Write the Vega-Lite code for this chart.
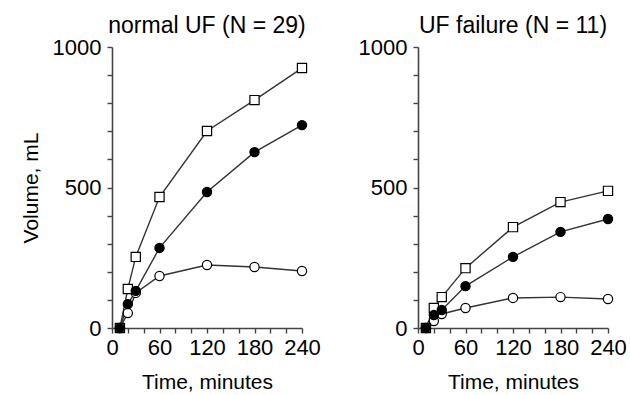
{
  "$schema": "https://vega.github.io/schema/vega-lite/v6.json",
  "background": "white",
  "padding": {"left": 20, "top": 15, "right": 5, "bottom": 0},
  "datasets": {
    "normal": [
      {"series": "open", "time": 10, "volume": 0},
      {"series": "open", "time": 20, "volume": 53},
      {"series": "open", "time": 30, "volume": 125},
      {"series": "open", "time": 60, "volume": 185},
      {"series": "open", "time": 120, "volume": 224},
      {"series": "open", "time": 180, "volume": 217},
      {"series": "open", "time": 240, "volume": 203},
      {"series": "square", "time": 10, "volume": 0},
      {"series": "square", "time": 20, "volume": 139},
      {"series": "square", "time": 30, "volume": 253},
      {"series": "square", "time": 60, "volume": 466},
      {"series": "square", "time": 120, "volume": 701},
      {"series": "square", "time": 180, "volume": 811},
      {"series": "square", "time": 240, "volume": 925},
      {"series": "filled", "time": 10, "volume": 0},
      {"series": "filled", "time": 20, "volume": 85},
      {"series": "filled", "time": 30, "volume": 132},
      {"series": "filled", "time": 60, "volume": 285},
      {"series": "filled", "time": 120, "volume": 484},
      {"series": "filled", "time": 180, "volume": 626},
      {"series": "filled", "time": 240, "volume": 722}
    ],
    "failure": [
      {"series": "open", "time": 10, "volume": 0},
      {"series": "open", "time": 20, "volume": 25},
      {"series": "open", "time": 30, "volume": 50},
      {"series": "open", "time": 60, "volume": 71},
      {"series": "open", "time": 120, "volume": 107},
      {"series": "open", "time": 180, "volume": 110},
      {"series": "open", "time": 240, "volume": 103},
      {"series": "square", "time": 10, "volume": 0},
      {"series": "square", "time": 20, "volume": 71},
      {"series": "square", "time": 30, "volume": 110},
      {"series": "square", "time": 60, "volume": 213},
      {"series": "square", "time": 120, "volume": 359},
      {"series": "square", "time": 180, "volume": 448},
      {"series": "square", "time": 240, "volume": 488},
      {"series": "filled", "time": 10, "volume": 0},
      {"series": "filled", "time": 20, "volume": 46},
      {"series": "filled", "time": 30, "volume": 64},
      {"series": "filled", "time": 60, "volume": 149},
      {"series": "filled", "time": 120, "volume": 253},
      {"series": "filled", "time": 180, "volume": 342},
      {"series": "filled", "time": 240, "volume": 388}
    ]
  },
  "config": {
    "font": "Liberation Sans",
    "view": {"stroke": null},
    "axis": {
      "grid": false,
      "domainColor": "#444",
      "tickColor": "#444",
      "domainWidth": 1.6,
      "tickWidth": 1.4,
      "tickSize": 5,
      "labelColor": "black",
      "titleColor": "black",
      "labelFont": "Liberation Sans",
      "titleFont": "Liberation Sans",
      "labelFontSize": 22,
      "titleFontSize": 21,
      "titleFontWeight": "normal",
      "labelOverlap": false
    },
    "title": {"fontSize": 23, "fontWeight": "normal", "color": "black", "font": "Liberation Sans", "offset": -2},
    "concat": {"spacing": 37}
  },
  "hconcat": [
    {
      "width": 190,
      "height": 281,
      "title": "normal UF (N = 29)",
      "data": {"name": "normal"},
      "encoding": {
        "x": {
          "field": "time", "type": "quantitative",
          "scale": {"domain": [0, 240], "nice": false},
          "axis": {
            "values": [0, 20, 40, 60, 80, 100, 120, 140, 160, 180, 200, 220, 240],
            "labelExpr": "datum.value % 60 === 0 ? datum.label : ''",
            "labelFlush": false,
            "labelPadding": 4,
            "title": "Time, minutes",
            "titlePadding": 13
          }
        },
        "y": {
          "field": "volume", "type": "quantitative",
          "scale": {"domain": [0, 1000], "nice": false},
          "axis": {
            "values": [0, 100, 200, 300, 400, 500, 600, 700, 800, 900, 1000],
            "format": "d",
            "labelExpr": "datum.value % 500 === 0 ? datum.label : ''",
            "labelFlush": false,
            "labelPadding": 6,
            "title": "Volume, mL",
            "titlePadding": 11
          }
        }
      },
      "layer": [
        {"mark": {"type": "line", "color": "#333", "strokeWidth": 1.4}, "encoding": {"detail": {"field": "series"}}},
        {
          "mark": {"type": "point", "filled": true, "stroke": "black", "strokeWidth": 1.2, "size": 85, "opacity": 1},
          "encoding": {
            "shape": {"field": "series", "scale": {"domain": ["square", "filled", "open"], "range": ["square", "circle", "circle"]}, "legend": null},
            "fill": {"field": "series", "scale": {"domain": ["square", "filled", "open"], "range": ["white", "black", "white"]}, "legend": null}
          }
        }
      ]
    },
    {
      "width": 190,
      "height": 281,
      "title": "UF failure (N = 11)",
      "data": {"name": "failure"},
      "encoding": {
        "x": {
          "field": "time", "type": "quantitative",
          "scale": {"domain": [0, 240], "nice": false},
          "axis": {
            "values": [0, 20, 40, 60, 80, 100, 120, 140, 160, 180, 200, 220, 240],
            "labelExpr": "datum.value % 60 === 0 ? datum.label : ''",
            "labelFlush": false,
            "labelPadding": 4,
            "title": "Time, minutes",
            "titlePadding": 13
          }
        },
        "y": {
          "field": "volume", "type": "quantitative",
          "scale": {"domain": [0, 1000], "nice": false},
          "axis": {
            "values": [0, 100, 200, 300, 400, 500, 600, 700, 800, 900, 1000],
            "format": "d",
            "labelExpr": "datum.value % 500 === 0 ? datum.label : ''",
            "labelFlush": false,
            "labelPadding": 6,
            "title": null
          }
        }
      },
      "layer": [
        {"mark": {"type": "line", "color": "#333", "strokeWidth": 1.4}, "encoding": {"detail": {"field": "series"}}},
        {
          "mark": {"type": "point", "filled": true, "stroke": "black", "strokeWidth": 1.2, "size": 85, "opacity": 1},
          "encoding": {
            "shape": {"field": "series", "scale": {"domain": ["square", "filled", "open"], "range": ["square", "circle", "circle"]}, "legend": null},
            "fill": {"field": "series", "scale": {"domain": ["square", "filled", "open"], "range": ["white", "black", "white"]}, "legend": null}
          }
        }
      ]
    }
  ]
}
